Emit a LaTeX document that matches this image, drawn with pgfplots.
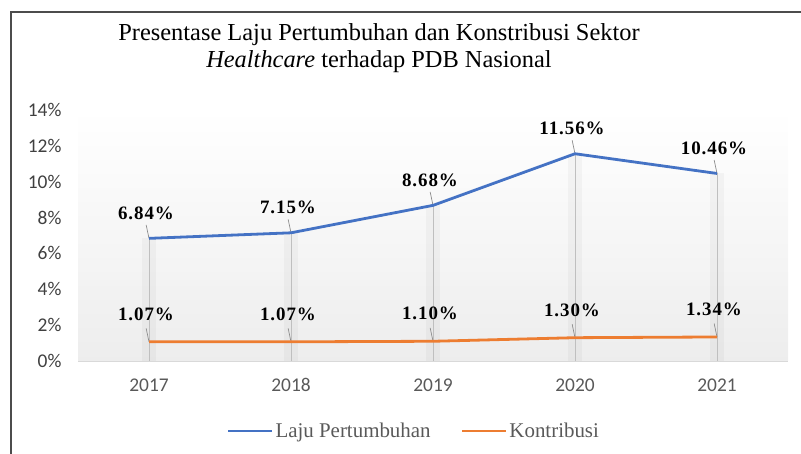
\documentclass[border=0pt]{standalone}
\usepackage{pgfplots}
\pgfplotsset{compat=1.18}
\usepackage{pgfplotstable}
\usepackage{fontspec}
\setmainfont{Liberation Serif}
\newfontfamily\carlito{Carlito}
\newfontfamily\lblfont[LetterSpace=5]{Liberation Serif}
\definecolor{cblue}{HTML}{4472C4}
\definecolor{corange}{HTML}{ED7D31}
\definecolor{txtgray}{HTML}{595959}
\definecolor{ytgray}{HTML}{404040}
\definecolor{axgray}{HTML}{D9D9D9}

\pgfplotstableread{
x y
0 6.84
1 7.15
2 8.68
3 11.56
4 10.46
}\laju
\pgfplotstableread{
x y
0 1.07
1 1.07
2 1.10
3 1.30
4 1.34
}\kontri

\begin{document}
\begin{tikzpicture}
\useasboundingbox (0,0) rectangle (801bp,454bp);
\draw[line width=1.6bp, black!70] (11bp,0) -- (11bp,442bp) -- (801bp,442bp);
\node[align=center, font=\fontsize{24.5}{27}\selectfont] at (379bp,406bp)
  {Presentase Laju Pertumbuhan dan Konstribusi Sektor\\ \textit{Healthcare} terhadap PDB Nasional};
\begin{axis}[
  at={(78bp,93bp)}, anchor=south west,
  scale only axis, width=710bp, height=251bp,
  xmin=-0.5, xmax=4.5, ymin=0, ymax=14,
  axis background/.style={shade, top color=white, bottom color=black!7},
  axis x line*=bottom, x axis line style={draw=axgray, line width=1pt},
  axis y line*=left, y axis line style={draw=none},
  major tick length=0,
  xtick={0,1,2,3,4}, xticklabels={2017,2018,2019,2020,2021},
  ytick={0,2,4,6,8,10,12,14},
  yticklabels={0\%,2\%,4\%,6\%,8\%,10\%,12\%,14\%},
  ticklabel style={font=\carlito\fontsize{19.5}{19.5}\selectfont},
  xticklabel style={anchor=base, yshift=-30bp, text=txtgray},
  yticklabel style={xshift=-13bp, text=ytgray},
  clip=false,
  legend style={at={(0.473,-0.279)}, anchor=center, draw=none, fill=none,
    font=\fontsize{21}{22}\selectfont, text=txtgray,
    /tikz/every even column/.append style={column sep=28bp}},
  legend columns=2,
  legend image code/.code={\draw[#1, line width=2.8bp] (0bp,0bp) -- (44bp,0bp);},
  nodes near coords={\pgfmathprintnumber[assume math mode=true,fixed,fixed zerofill,precision=2]{\pgfplotspointmeta}\%},
  every node near coord/.append style={font=\lblfont\bfseries\fontsize{19}{19}\selectfont, text=black, anchor=base, xshift=-3bp},
]
% drop-line shadows and lines
\addplot[ycomb, black, opacity=0.03, line width=14bp, forget plot, nodes near coords={}] table[x=x,y=y] {\laju};
\addplot[ycomb, black!25, line width=0.8bp, forget plot, nodes near coords={}] table[x=x,y=y] {\laju};
% leader lines
\addplot[black!45, line width=0.7bp, quiver={u=-0.02, v=0.75}, forget plot, nodes near coords={}] table[x=x,y=y] {\laju};
\addplot[black!45, line width=0.7bp, quiver={u=-0.02, v=0.75}, forget plot, nodes near coords={}] table[x=x,y=y] {\kontri};
% series
\addplot[cblue, line width=2.8bp, line join=round, every node near coord/.append style={yshift=19bp}] table[x=x,y=y] {\laju};
\addlegendentry{Laju Pertumbuhan}
\addplot[corange, line width=2.8bp, line join=round, every node near coord/.append style={yshift=21.5bp}] table[x=x,y=y] {\kontri};
\addlegendentry{Kontribusi}
\end{axis}
\end{tikzpicture}
\end{document}
